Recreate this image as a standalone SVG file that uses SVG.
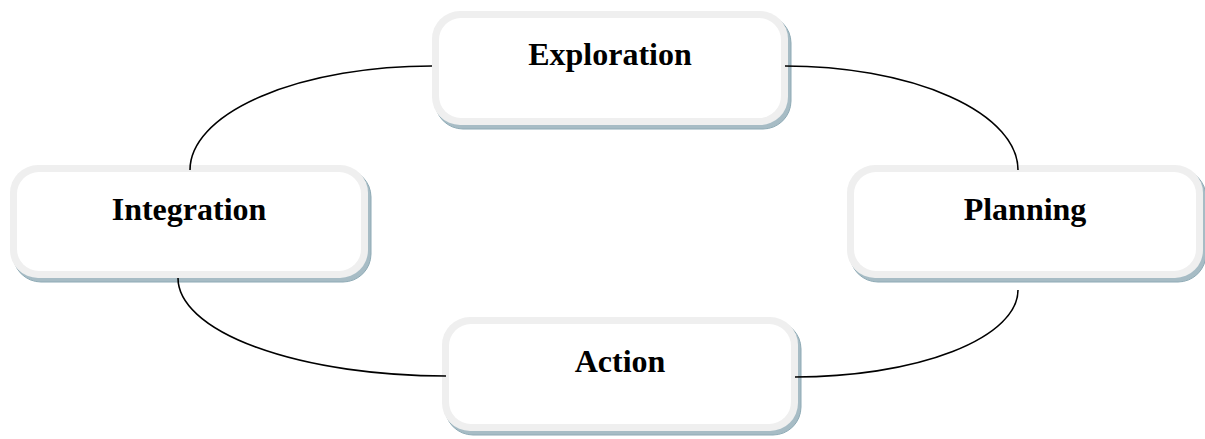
<svg xmlns="http://www.w3.org/2000/svg" width="1205" height="439" viewBox="0 0 1205 439">
<style>
.shadow{fill:#a7bcc5;stroke:#8eaab5;stroke-width:1}
.outer{fill:#efefef}
.inner{fill:#ffffff}
.label{font-family:"Liberation Serif","Times New Roman",serif;font-weight:bold;font-size:32px;fill:#000;text-anchor:middle}
.conn{fill:none;stroke:#000;stroke-width:1.6}
</style>
<rect width="1205" height="439" fill="#ffffff"/>
<g id="node-exploration">
<rect class="shadow" x="435" y="15" width="356" height="114" rx="28"/>
<rect class="outer" x="432" y="11" width="356" height="114" rx="28"/>
<rect class="inner" x="439" y="18" width="342" height="100" rx="22"/>
<text class="label" x="610" y="65">Exploration</text>
</g>
<g id="node-integration">
<rect class="shadow" x="13" y="169" width="358" height="113" rx="28"/>
<rect class="outer" x="10" y="165" width="358" height="113" rx="28"/>
<rect class="inner" x="17" y="172" width="344" height="99" rx="22"/>
<text class="label" x="189" y="220">Integration</text>
</g>
<g id="node-planning">
<rect class="shadow" x="850" y="169" width="356" height="113" rx="28"/>
<rect class="outer" x="847" y="165" width="356" height="113" rx="28"/>
<rect class="inner" x="854" y="172" width="342" height="99" rx="22"/>
<text class="label" x="1025" y="220">Planning</text>
</g>
<g id="node-action">
<rect class="shadow" x="445" y="321" width="356" height="114" rx="28"/>
<rect class="outer" x="442" y="317" width="356" height="114" rx="28"/>
<rect class="inner" x="449" y="324" width="342" height="100" rx="22"/>
<text class="label" x="620" y="372">Action</text>
</g>
<g id="connectors">
<path class="conn" d="M432,66 A242,104 0 0 0 190,170"/>
<path class="conn" d="M785,66 A233,104 0 0 1 1018,170"/>
<path class="conn" d="M178,278 A268,98 0 0 0 446,376"/>
<path class="conn" d="M1018,290 A223,87 0 0 1 795,377"/>
</g>
</svg>
